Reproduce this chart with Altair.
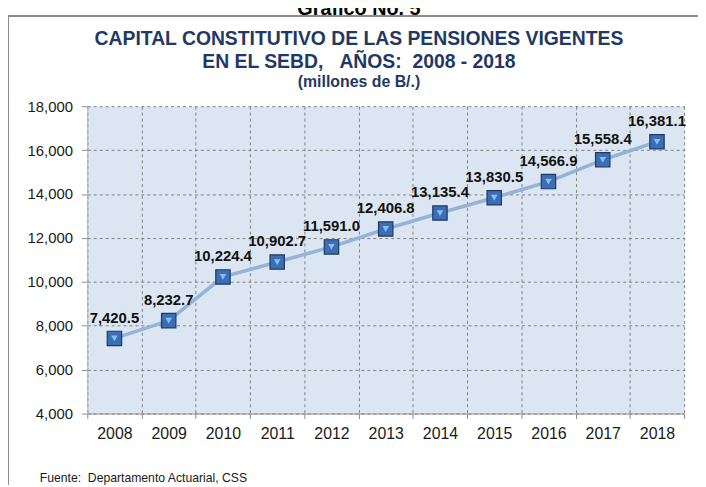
import altair as alt
import pandas as pd

years = ["2008", "2009", "2010", "2011", "2012", "2013", "2014", "2015", "2016", "2017", "2018"]
values = [7420.5, 8232.7, 10224.4, 10902.7, 11591.0, 12406.8, 13135.4, 13830.5, 14566.9, 15558.4, 16381.1]
y_ticks = [4000, 6000, 8000, 10000, 12000, 14000, 16000, 18000]

NB = "\u00a0"
heading = "Gráfico No. 5"
title_line1 = "CAPITAL CONSTITUTIVO DE LAS PENSIONES VIGENTES"
title_line2 = "EN EL SEBD," + NB * 3 + "AÑOS:" + NB * 2 + "2008 - 2018"
subtitle = "(millones de B/.)"
source_note = "Fuente:" + NB * 2 + "Departamento Actuarial, CSS"

df = pd.DataFrame({"year": years, "value": values})

FONT = "Liberation Sans"
NAVY = "#1F3864"

x_enc = alt.X(
    "year:O",
    title=None,
    scale=alt.Scale(paddingInner=0, paddingOuter=0),
    axis=alt.Axis(
        labelAngle=0, tickBand="extent", grid=True, gridDash=[3, 3], gridColor="#7f7f7f",
        gridWidth=1, tickSize=5, tickColor="#8c8c8c", domainColor="#8c8c8c",
        labelFontSize=16, labelPadding=7, labelColor="#1a1a1a", labelFont=FONT,
    ),
)
y_enc = alt.Y(
    "value:Q",
    title=None,
    scale=alt.Scale(domain=[4000, 18000], nice=False, zero=False),
    axis=alt.Axis(
        values=y_ticks, format=",.0f", grid=True, gridDash=[3, 3], gridColor="#7f7f7f",
        gridWidth=1, tickSize=6, tickColor="#8c8c8c", domainColor="#b0b0b0",
        labelFontSize=15, labelPadding=9, labelColor="#1a1a1a", labelFont=FONT,
    ),
)

base = alt.Chart(df).encode(x=x_enc, y=y_enc)

line = base.mark_line(color="#95B3D7", strokeWidth=3.5)
squares = base.mark_point(shape="square", filled=True, size=210, fill="#3C6EB4",
                          stroke="#1F3864", strokeWidth=1.2, opacity=1)
inner = base.mark_point(shape="triangle-down", filled=True, size=45, fill="#86BDF3",
                        opacity=1, strokeWidth=0)
labels = base.mark_text(dy=-21, fontSize=15, fontWeight="bold", font=FONT,
                        color="#111111").encode(text=alt.Text("value:Q", format=",.1f"))


def text_layer(txt, xpos, ypos, size, weight, color, align="center", baseline="middle"):
    return alt.Chart(pd.DataFrame({"t": [txt]})).mark_text(
        fontSize=size, fontWeight=weight, font=FONT, color=color,
        align=align, baseline=baseline, clip=False,
    ).encode(text="t:N", x=alt.value(xpos), y=alt.value(ypos))


head = text_layer(heading, 274, -92, 20, "bold", "#000000", baseline="alphabetic")
t1 = text_layer(title_line1, 274, -68, 19.5, "bold", NAVY)
t2 = text_layer(title_line2, 274, -45, 19.5, "bold", NAVY)
t3 = text_layer(subtitle, 274, -24, 16, "bold", NAVY)
foot = text_layer(source_note, -48, 375, 12.3, "normal", "#1a1a1a", align="left")

one = pd.DataFrame({"k": [0]})
frame_top = alt.Chart(one).mark_rule(color="#8c8c8c", strokeWidth=2).encode(
    x=alt.value(-80), x2=alt.value(640), y=alt.value(-91))
frame_left = alt.Chart(one).mark_rule(color="#8c8c8c", strokeWidth=2).encode(
    x=alt.value(-80), y=alt.value(-91), y2=alt.value(400))

chart = alt.layer(
    frame_top, frame_left, line, squares, inner, labels, head, t1, t2, t3, foot
).properties(
    width=602, height=310, autosize="none",
    padding={"left": 80, "top": 97, "right": 14, "bottom": 70},
).configure_view(fill="#DCE6F2", stroke="transparent")

chart.save("out.html", embed_options={"renderer": "svg", "actions": False})
